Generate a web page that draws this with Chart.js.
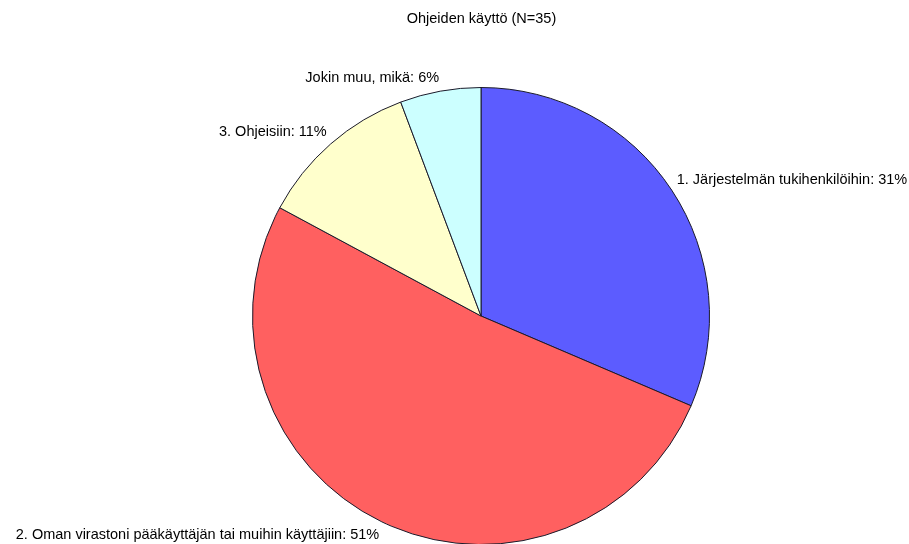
<!DOCTYPE html>
<html>
<head>
<meta charset="utf-8">
<title>Ohjeiden käyttö</title>
<script src="https://cdn.jsdelivr.net/npm/chart.js@4.4.1/dist/chart.umd.min.js"></script>
<style>
  html, body { margin: 0; padding: 0; background: #ffffff; overflow: hidden; }
  #wrap { width: 909px; height: 544px; overflow: hidden; position: relative; }
  canvas { display: block; }
</style>
</head>
<body>
<div id="wrap"><canvas id="chart" width="909" height="560"></canvas></div>
<script>
// Survey answers: where help for the system is sought
const chartTitle = 'Ohjeiden käyttö (N=35)';
const categories = [
  '1. Järjestelmän tukihenkilöihin',
  '2. Oman virastoni pääkäyttäjän tai muihin käyttäjiin',
  '3. Ohjeisiin',
  'Jokin muu, mikä'
];
const counts = [11, 18, 4, 2];
const percentLabels = ['31%', '51%', '11%', '6%'];
const sliceColors = ['#5c5cff', '#ff6060', '#ffffcc', '#ccffff'];

const FONT = '"Liberation Sans", Arial, sans-serif';
const FONT_SIZE = 14.5;

// Writes the title and the outside labels of each slice
const pieLabels = {
  id: 'pieLabels',
  afterDraw(chart) {
    const ctx = chart.ctx;
    ctx.save();
    ctx.fillStyle = '#000000';
    ctx.font = FONT_SIZE + 'px ' + FONT;

    // title
    ctx.textAlign = 'center';
    ctx.textBaseline = 'middle';
    ctx.fillText(chartTitle, chart.width / 2 + 27, 19);

    const meta = chart.getDatasetMeta(0);
    meta.data.forEach((arc, i) => {
      const p = arc.getProps(['x', 'y', 'startAngle', 'endAngle', 'outerRadius'], true);
      const mid = (p.startAngle + p.endAngle) / 2;
      const ux = Math.cos(mid), uy = Math.sin(mid);
      const d = p.outerRadius + 6;
      const ax = p.x + ux * d;
      const ay = p.y + uy * d;
      ctx.textAlign = ux >= 0 ? 'left' : 'right';
      ctx.textBaseline = uy < 0 ? 'bottom' : 'top';
      ctx.fillText(categories[i] + ': ' + percentLabels[i], ax, ay);
    });
    ctx.restore();
  }
};

new Chart(document.getElementById('chart'), {
  type: 'pie',
  data: {
    labels: categories,
    datasets: [{
      data: counts,
      backgroundColor: sliceColors,
      borderColor: '#1a1a2a',
      borderWidth: 1,
      hoverOffset: 0
    }]
  },
  options: {
    responsive: false,
    animation: false,
    events: [],
    layout: { padding: { top: 87, left: 252, right: 199, bottom: 15 } },
    plugins: {
      legend: { display: false },
      title: { display: false },
      tooltip: { enabled: false }
    }
  },
  plugins: [pieLabels]
});
</script>
</body>
</html>
